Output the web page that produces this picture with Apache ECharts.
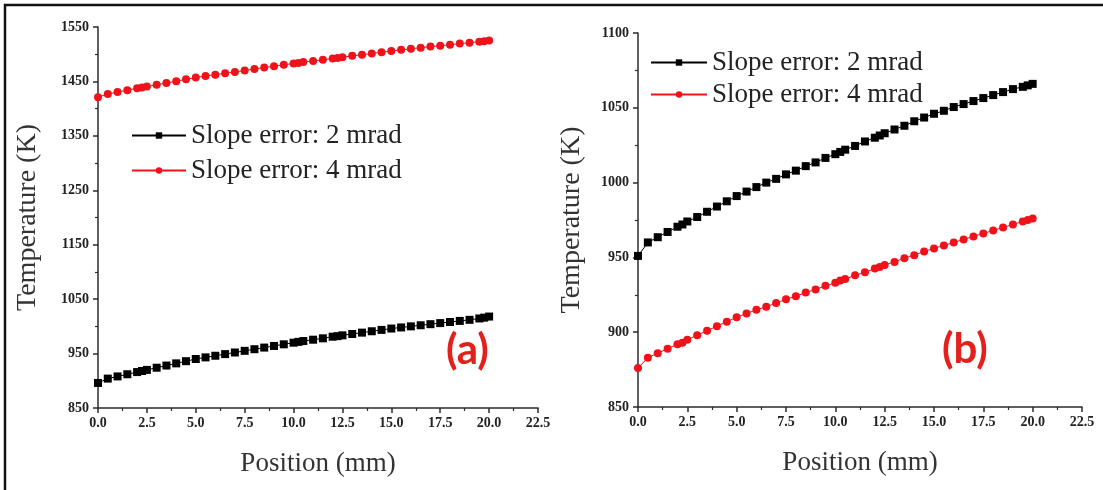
<!DOCTYPE html>
<html>
<head>
<meta charset="utf-8">
<title>Temperature vs position</title>
<script src="https://cdn.jsdelivr.net/npm/echarts@6/dist/echarts.min.js"></script>
<style>
  html, body { margin: 0; padding: 0; background: #fff; }
  #chart { width: 1103px; height: 490px; }
</style>
</head>
<body>
<div id="chart"></div>
<script>
// Sample positions along the absorber (mm)
const positions = [0, 0.5, 1, 1.5, 2, 2.25, 2.5, 3, 3.5, 4, 4.5, 5, 5.5, 6, 6.5, 7, 7.5, 8, 8.5, 9, 9.5, 10,
  10.25, 10.5, 11, 11.5, 12, 12.25, 12.5, 13, 13.5, 14, 14.5, 15, 15.5, 16, 16.5, 17, 17.5, 18, 18.5, 19, 19.5, 19.75, 20];

// Panel (a) temperatures (K)
const tempA2 = [896, 904, 908, 912, 916, 918, 920, 924, 928, 932, 936, 940, 943, 946, 949, 952, 955, 958, 961, 964, 967, 970,
  971.5, 973, 975.5, 978, 981, 982, 983.5, 986, 988.5, 991, 993.5, 996, 998, 1000, 1002, 1004, 1006, 1008, 1010, 1012, 1014.5, 1016, 1018];
const tempA4 = [1421, 1427, 1430.5, 1434, 1437.5, 1439, 1440.5, 1444, 1447, 1450.5, 1454, 1457, 1460, 1462.5, 1465, 1467.5, 1470, 1473, 1475.5, 1478, 1480.5, 1483,
  1484, 1485.5, 1487.5, 1490, 1492, 1493, 1494.5, 1497, 1499, 1501.5, 1503.5, 1506, 1508, 1510, 1512, 1514, 1515.5, 1517.5, 1519.5, 1521, 1523, 1524, 1525];

// Panel (b) temperatures (K)
const tempB2 = [951, 960, 963.5, 967, 970.5, 972, 974, 977, 980.5, 984, 987.5, 991, 994, 997, 1000, 1002.5, 1005.5, 1008, 1011, 1013.5, 1016.5, 1019,
  1020.5, 1022, 1024.5, 1027.5, 1030, 1031.5, 1033, 1035.5, 1038, 1041, 1043.5, 1046, 1048, 1050.5, 1052.5, 1054.5, 1056.5, 1058.5, 1060.5, 1062.5, 1064, 1065, 1066];
const tempB4 = [876, 883, 886, 889, 892, 893, 895, 898, 901, 904, 907, 910, 912.5, 915, 917, 919.5, 922, 924, 926.5, 928.5, 931, 933,
  934.5, 935.5, 938, 940, 942.5, 943.5, 945, 947, 949.5, 951.5, 954, 956, 958, 960, 962, 964, 966, 968, 970, 972, 974, 975, 976];

const seriesNames = ['Slope error: 2 mrad', 'Slope error: 4 mrad'];
const xTitle = 'Position (mm)';
const yTitle = 'Temperature (K)';
const panelTags = ['(a)', '(b)'];

const SERIF = '"Liberation Serif", "Times New Roman", serif';
const BLACK = '#000000';
const RED = '#f0121a';
const AXIS = '#2b2b2b';

const pairs = (ys) => positions.map((x, i) => [x, ys[i]]);

function xAxisFor(gridIndex) {
  return {
    type: 'value', gridIndex, min: 0, max: 22.5, interval: 2.5,
    name: xTitle, nameLocation: 'middle', nameGap: 42,
    nameTextStyle: { fontFamily: SERIF, fontSize: 27, color: '#333' },
    axisLine: { show: true, lineStyle: { color: AXIS, width: 1.5 } },
    axisTick: { show: true, inside: false, length: 5, lineStyle: { color: AXIS, width: 1.5 } },
    minorTick: { show: true, splitNumber: 2, length: 3, lineStyle: { color: AXIS, width: 1.2 } },
    axisLabel: { fontFamily: SERIF, fontWeight: 'bold', fontSize: 14, color: '#222', margin: 8,
      formatter: (v) => v.toFixed(1) },
    splitLine: { show: false }
  };
}

function yAxisFor(gridIndex, min, max, interval, gap) {
  return {
    type: 'value', gridIndex, min, max, interval,
    name: yTitle, nameLocation: 'middle', nameGap: gap, nameRotate: 90,
    nameTextStyle: { fontFamily: SERIF, fontSize: 28, color: '#333' },
    axisLine: { show: true, lineStyle: { color: AXIS, width: 1.5 } },
    axisTick: { show: true, inside: false, length: 5, lineStyle: { color: AXIS, width: 1.5 } },
    minorTick: { show: true, splitNumber: 2, length: 3, lineStyle: { color: AXIS, width: 1.2 } },
    axisLabel: { fontFamily: SERIF, fontWeight: 'bold', fontSize: 14, color: '#222', margin: 9,
      formatter: (v) => String(v) },
    splitLine: { show: false }
  };
}

function lineSeries(name, data, idx, color, symbol) {
  return {
    name, type: 'line', xAxisIndex: idx, yAxisIndex: idx, data,
    symbol, symbolSize: 8,
    showSymbol: true, animation: false,
    itemStyle: { color },
    lineStyle: { color, width: 1 }
  };
}

const legendText = { fontFamily: SERIF, fontSize: 27, color: '#222' };

const chart = echarts.init(document.getElementById('chart'), null, { renderer: 'canvas' });
chart.setOption({
  backgroundColor: '#ffffff',
  animation: false,
  grid: [
    { left: 98, top: 27, width: 440, bottom: 82, containLabel: false },
    { left: 638, top: 33, right: 21, bottom: 83, containLabel: false }
  ],
  xAxis: [xAxisFor(0), xAxisFor(1)],
  yAxis: [yAxisFor(0, 850, 1550, 100, 56), yAxisFor(1, 850, 1100, 50, 52)],
  legend: [
    { data: seriesNames, orient: 'vertical', left: 126, top: 117, itemGap: 8,
      itemWidth: 54, itemHeight: 8, textStyle: legendText, selectedMode: false },
    { data: seriesNames, orient: 'vertical', left: 645, top: 44, itemGap: 5,
      itemWidth: 56, itemHeight: 8, textStyle: legendText, selectedMode: false }
  ],
  series: [
    lineSeries(seriesNames[0], pairs(tempA2), 0, BLACK, 'rect'),
    lineSeries(seriesNames[1], pairs(tempA4), 0, RED, 'circle'),
    lineSeries(seriesNames[0], pairs(tempB2), 1, BLACK, 'rect'),
    lineSeries(seriesNames[1], pairs(tempB4), 1, RED, 'circle')
  ],
  graphic: [
    // frame along the top and left edges
    { type: 'polyline', shape: { points: [[5, 490], [5, 5], [1103, 5]] },
      style: { stroke: '#111', lineWidth: 2.5, fill: null }, silent: true },
    { type: 'text', left: 446, top: 329,
      style: { text: panelTags[0], font: 'bold 42px Lato, "Open Sans", sans-serif', fill: '#e3201b' } },
    { type: 'text', left: 942, top: 328,
      style: { text: panelTags[1], font: 'bold 42px Lato, "Open Sans", sans-serif', fill: '#e3201b' } }
  ]
});
</script>
</body>
</html>
